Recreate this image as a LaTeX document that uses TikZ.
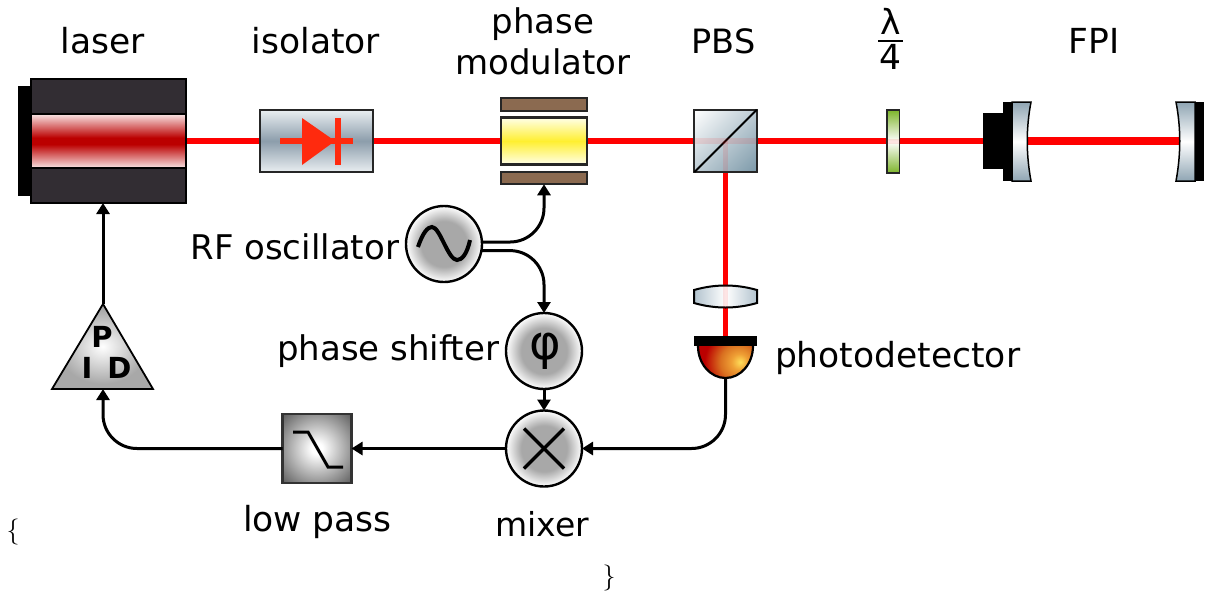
\documentclass[tikz,border=0pt]{standalone}
\usepackage{fontspec}
\usetikzlibrary{arrows.meta,backgrounds}
\newfontfamily\djf{DejaVu Sans}
\definecolor{beamred}{HTML}{FF0000}
\definecolor{bodyc}{HTML}{322D33}
\definecolor{laserred}{HTML}{BB0000}
\definecolor{laseredge}{HTML}{F8E4E4}
\definecolor{steelmid}{HTML}{8C9DAB}
\definecolor{steeledge}{HTML}{E9EEF1}
\definecolor{pbsdark}{HTML}{7C99A9}
\definecolor{brownp}{HTML}{8B6A50}
\definecolor{yelmid}{HTML}{FFEF30}
\definecolor{yeledge}{HTML}{FFFFE8}
\definecolor{diode}{HTML}{FF2A0E}
\definecolor{greenp}{HTML}{7EB52C}
\definecolor{mirr}{HTML}{8FA5B3}
\definecolor{lensedge}{HTML}{B2C3CE}
\definecolor{ballgray}{HTML}{A8A8A8}
\definecolor{lpdark}{HTML}{5E5E5E}
\definecolor{detY}{HTML}{FFDF5A}
\definecolor{detA}{HTML}{EFA035}
\definecolor{detM}{HTML}{D97020}
\pgfdeclareverticalshading{lasersh}{100bp}{color(0bp)=(laseredge); color(25bp)=(laseredge); color(47bp)=(laserred); color(53bp)=(laserred); color(75bp)=(laseredge); color(100bp)=(laseredge)}
\pgfdeclareverticalshading{isosh}{100bp}{color(0bp)=(steeledge); color(25bp)=(steeledge); color(50bp)=(steelmid); color(75bp)=(steeledge); color(100bp)=(steeledge)}
\pgfdeclareverticalshading{crystalsh}{100bp}{color(0bp)=(yeledge); color(25bp)=(yeledge); color(50bp)=(yelmid); color(75bp)=(yeledge); color(100bp)=(yeledge)}
\pgfdeclareverticalshading{platesh}{100bp}{color(0bp)=(greenp); color(25bp)=(greenp); color(50bp)=(white); color(75bp)=(greenp); color(100bp)=(greenp)}
\pgfdeclareverticalshading{mirrsh}{100bp}{color(0bp)=(mirr); color(25bp)=(mirr); color(50bp)=(white); color(75bp)=(mirr); color(100bp)=(mirr)}
\pgfdeclareverticalshading{pbssh}{100bp}{color(0bp)=(pbsdark); color(15bp)=(pbsdark); color(85bp)=(white); color(100bp)=(white)}
\pgfdeclarehorizontalshading{lenssh}{100bp}{color(0bp)=(lensedge); color(25bp)=(lensedge); color(50bp)=(white); color(75bp)=(lensedge); color(100bp)=(lensedge)}
\pgfdeclareradialshading{ballsh}{\pgfpoint{0bp}{0bp}}{color(0bp)=(ballgray); color(15bp)=(ballgray); color(25bp)=(white); color(50bp)=(white)}
\pgfdeclareradialshading{pidsh}{\pgfpoint{0bp}{0bp}}{color(0bp)=(white); color(22bp)=(ballgray); color(50bp)=(ballgray)}
\pgfdeclareradialshading{lpsh}{\pgfpoint{0bp}{0bp}}{color(0bp)=(white); color(4bp)=(white); color(35bp)=(lpdark); color(50bp)=(lpdark)}
\pgfdeclareradialshading{detsh}{\pgfpoint{7.5bp}{0bp}}{color(0bp)=(detY); color(4bp)=(detA); color(9bp)=(detM); color(16bp)=(laserred); color(60bp)=(laserred)}
\tikzset{
  box/.style={draw=black!85,line width=2.2pt,inner sep=0pt,outer sep=0pt,rectangle},
  ballnode/.style={draw=black,line width=2.4pt,circle,inner sep=0pt,outer sep=0pt,minimum size=76pt,shading=ballsh},
  beam/.style={draw=beamred,line width=5.5pt},
  fpbeam/.style={draw=beamred,line width=8pt},
  beamover/.style={draw=beamred,line width=5.5pt,opacity=.1},
  conn/.style={draw=black,line width=3pt,-{Triangle[length=11pt,width=13pt]},rounded corners=34pt},
  sym/.style={draw=black,line width=3.5pt},
  lab/.style={font=\djf\fontsize{34.5}{41}\selectfont,inner sep=0pt,outer sep=0pt,text=black},
  labs/.style={font=\djf\fontsize{34}{41}\selectfont,inner sep=0pt,outer sep=0pt,text=black},
  blackpart/.style={fill=black,draw=none,inner sep=0pt,outer sep=0pt,rectangle},
}
\begin{document}
\begin{tikzpicture}[x=1pt,y=-1pt]
\useasboundingbox (0,0) rectangle (1211,598);
% laser
\node[blackpart,minimum width=14pt,minimum height=110pt] (back) at (25,141) {};
\node[box,fill=bodyc,draw=black,minimum width=155pt,minimum height=124pt] (laser) at (108.5,141) {};
\node[box,draw=black,shading=lasersh,minimum width=155pt,minimum height=54pt] (strip) at (108.5,141) {};
% isolator
\node[box,shading=isosh,minimum width=113pt,minimum height=62pt] (iso) at (316.5,141) {};
\node[fill=diode,draw=none,inner sep=0pt,minimum width=73pt,minimum height=5.5pt] (dline) at (316.5,141) {};
\coordinate (dtip) at (335,141);
\path[fill=diode] (302,118) -- (dtip) -- (302,165) -- cycle;
\node[fill=diode,draw=none,inner sep=0pt,minimum width=6pt,minimum height=47pt] (dbar) at (338,141.5) {};
% phase modulator
\node[box,fill=brownp,minimum width=86pt,minimum height=12.5pt] (pmtop) at (544,104.5) {};
\node[box,shading=crystalsh,minimum width=86pt,minimum height=47pt] (crystal) at (544,141) {};
\node[box,fill=brownp,minimum width=86pt,minimum height=12.5pt] (pmbot) at (544,178) {};
% PBS
\node[box,shading=pbssh,shading angle=45,minimum size=62.5pt] (pbs) at (725.5,141) {};
\draw[draw=black,line width=2pt] (pbs.south west) -- (pbs.north east);
% quarter wave plate
\node[box,line width=1.8pt,shading=platesh,minimum width=12.5pt,minimum height=62.5pt] (plate) at (893.3,141.5) {};
% FPI
\node[blackpart,minimum width=21pt,minimum height=56pt] (mount) at (993.5,141) {};
\node[blackpart,minimum width=10pt,minimum height=79pt] (m1back) at (1008,141.5) {};
\coordinate (m1c) at (1027,141);
\coordinate (m2c) at (1180,141);
\path[draw=black,line width=1.5pt,shading=mirrsh] (1012,102) -- (1031,102) .. controls (1026,128) and (1026,154) .. (1031,181) -- (1012,181) -- cycle;
\node[blackpart,minimum width=9pt,minimum height=79pt] (m2back) at (1199.5,141.5) {};
\path[draw=black,line width=1.5pt,shading=mirrsh] (1195,102) -- (1176,102) .. controls (1181,128) and (1181,154) .. (1176,181) -- (1195,181) -- cycle;
% lens
\coordinate (lenstop) at (725.5,285);
\coordinate (lensbot) at (725.5,308);
\path[draw=black,line width=2pt,shading=lenssh] (694,290) .. controls (715,284) and (736,284) .. (757,290) -- (757,303) .. controls (736,309) and (715,309) .. (694,303) -- cycle;
% detector
\node[blackpart,minimum width=63pt,minimum height=10pt] (det) at (725.5,341) {};
\coordinate (detb) at (725.5,379);
\begin{scope}
\clip (698,346) arc[start angle=180,end angle=360,x radius=27.5pt,y radius=32pt] -- cycle;
\shade[shading=detsh] (725.5,362) circle[radius=50pt];
\end{scope}
\draw[draw=black,line width=2.2pt] (698,346) arc[start angle=180,end angle=360,x radius=27.5pt,y radius=32pt];
% balls
\node[ballnode] (rf) at (444,244) {};
\draw[line width=4pt,draw=black] (418,247) .. controls (423,232) and (428,227) .. (432,227) .. controls (440,227) and (448,260) .. (457,260) .. controls (462,260) and (467,254) .. (470,240);
\node[ballnode,font=\djf\fontsize{48}{48}\selectfont] (ps) at (544,351) {\hspace*{3pt}φ};
\node[ballnode] (mix) at (544,448.5) {};
\draw[sym] ([shift={(-20,-20)}]mix.center) -- ([shift={(20,20)}]mix.center);
\draw[sym] ([shift={(20,-20)}]mix.center) -- ([shift={(-20,20)}]mix.center);
% low pass
\node[box,draw=black!80,shading=lpsh,minimum size=69pt] (lp) at (317,448.5) {};
\draw[draw=black,line width=3pt] (293,432) -- (308,432) -- (328,467) -- (343,467);
% PID
\coordinate (pidtop) at (103,304);
\coordinate (pidbase) at (103,389);
\path[draw=black,line width=1.8pt,line join=miter,shading=pidsh] (pidtop) -- (153,389) -- (52,389) -- cycle;
\node[font=\djf\bfseries\fontsize{29}{29}\selectfont,inner sep=0pt] (P) at (102,336.5) {P};
\node[font=\djf\bfseries\fontsize{29}{29}\selectfont,inner sep=0pt] (I) at (87,367.5) {I};
\node[font=\djf\bfseries\fontsize{29}{29}\selectfont,inner sep=0pt] (D) at (119.5,367.5) {D};
% beams
\begin{pgfonlayer}{background}
\draw[beam] (laser.center) -- (mount.center);
\draw[beam] (pbs.center) -- (det.center);
\draw[fpbeam] (m1c) -- (m2c);
\end{pgfonlayer}
\draw[beamover] (pbs.west) -- (pbs.east);
\draw[beamover] (pbs.center) -- (pbs.south);
\draw[beamover] (plate.west) -- (plate.east);
\draw[beamover] (lenstop) -- (lensbot);
% connectors
\draw[conn] (rf.3) -| (pmbot.south);
\draw[conn] (rf.-10.5) -| (ps.north);
\draw[conn] (ps.south) -- (mix.north);
\draw[conn] (detb) |- (mix.east);
\draw[conn] (mix.west) -- (lp.east);
\draw[conn] (lp.west) -| (pidbase);
\draw[conn] (pidtop) -- (laser.south -| pidtop);
% labels
\node[lab] (t1) at (103,41) {laser};
\node[lab] (t2) at (316,41) {isolator};
\node[labs,align=center] (t3) at (543,41) {phase\\modulator};
\node[labs,font=\djf\fontsize{33.5}{41}\selectfont] (t4) at (723.5,41) {PBS};
\node[lab] (t5) at (890.5,39) {\vbox{\offinterlineskip\hsize=25pt\hbox to 25pt{\hfil λ\hfil}\kern5pt\hrule height 2.2pt\kern2pt\hbox to 25pt{\hfil 4\hfil}}};
\node[lab] (t6) at (1094,41) {FPI};
\node[labs,anchor=east] (t7) at (399,247) {RF oscillator};
\node[labs,anchor=east] (t8) at (499,351) {phase shifter};
\node[lab,anchor=west] (t9) at (775,358) {photodetector};
\node[labs,font=\djf\fontsize{33}{41}\selectfont] (t10) at (542,524) {mixer};
\node[lab] (t11) at (317.5,522) {low pass};
\node[font=\fontsize{26}{26}\selectfont,inner sep=0pt] (b1) at (13,532) {\{};
\node[font=\fontsize{26}{26}\selectfont,inner sep=0pt] (b2) at (609,578) {\}};
\end{tikzpicture}
\end{document}
